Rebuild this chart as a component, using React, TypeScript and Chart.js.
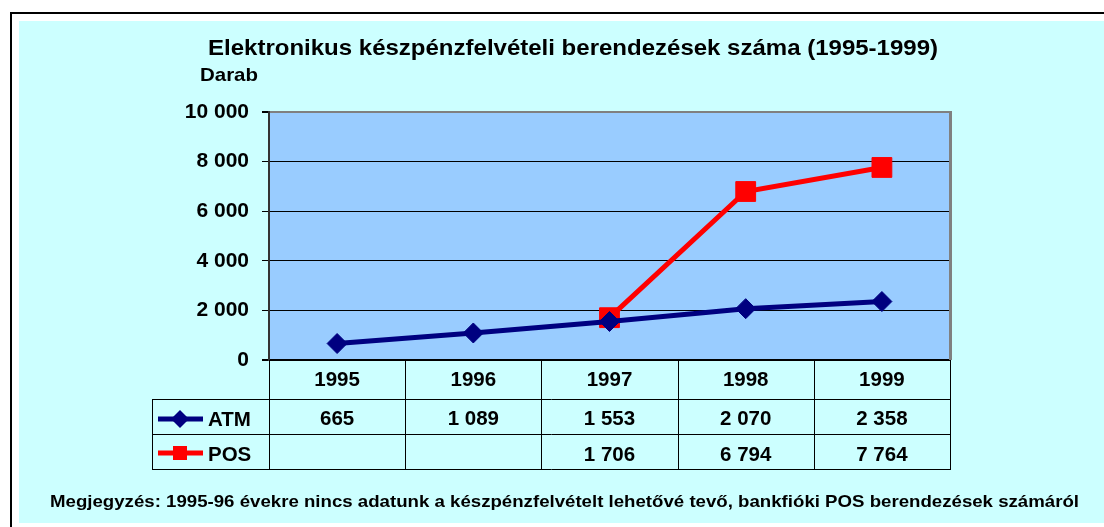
import { useEffect, useRef } from 'react';
import { Chart, registerables } from 'chart.js';

Chart.register(...registerables);

const W = 1104;
const H = 527;

const years: string[] = ['1995', '1996', '1997', '1998', '1999'];
const atm: (number | null)[] = [665, 1089, 1553, 2070, 2358];
const pos: (number | null)[] = [null, null, 1706, 6794, 7764];
const seriesNames: string[] = ['ATM', 'POS'];
const yMin = 0;
const yMax = 10000;
const yStep = 2000;
const titleText = 'Elektronikus készpénzfelvételi berendezések száma (1995-1999)';
const unitText = 'Darab';
const noteText =
  'Megjegyzés: 1995-96 évekre nincs adatunk a készpénzfelvételt lehetővé tevő, bankfióki POS berendezések számáról';

const FONT = '"Liberation Sans", Arial, sans-serif';
const NAVY = '#000080';
const RED = '#FF0000';

const fmt = (n: number | null) =>
  n === null || n === undefined ? '' : String(n).replace(/\B(?=(\d{3})+(?!\d))/g, ' ');

function drawText(
  ctx: CanvasRenderingContext2D,
  text: string,
  x: number,
  y: number,
  size: number,
  align: 'left' | 'center' | 'right',
  targetWidth?: number
) {
  ctx.save();
  ctx.font = `bold ${size}px ${FONT}`;
  ctx.fillStyle = '#000';
  ctx.textBaseline = 'alphabetic';
  const w = ctx.measureText(text).width;
  const sx = targetWidth ? targetWidth / w : 1;
  let left = x;
  const realW = w * sx;
  if (align === 'center') left = x - realW / 2;
  if (align === 'right') left = x - realW;
  ctx.translate(left, y);
  ctx.scale(sx, 1);
  ctx.textAlign = 'left';
  ctx.fillText(text, 0, 0);
  ctx.restore();
}

const framePlugin = {
  id: 'framePlugin',
  beforeDraw(chart: any) {
    const ctx: CanvasRenderingContext2D = chart.ctx;
    const ca = chart.chartArea;
    ctx.save();
    ctx.fillStyle = '#FFFFFF';
    ctx.fillRect(0, 0, W, H);
    ctx.fillStyle = '#000000';
    ctx.fillRect(10, 12, W - 10, 2);
    ctx.fillRect(10, 12, 2, H - 12);
    ctx.fillStyle = '#CCFFFF';
    ctx.fillRect(19, 21, W - 19, 502);
    ctx.fillStyle = '#99CCFF';
    ctx.fillRect(ca.left, ca.top, ca.right - ca.left, ca.bottom - ca.top);
    ctx.restore();

    drawText(ctx, titleText, 573, 55, 22, 'center', 730);
    drawText(ctx, unitText, 200, 81, 19, 'left', 58);
  },
  beforeDatasetsDraw(chart: any) {
    const ctx: CanvasRenderingContext2D = chart.ctx;
    const ca = chart.chartArea;
    ctx.save();
    ctx.fillStyle = '#808080';
    ctx.fillRect(ca.right - 1, ca.top - 1, 3, ca.bottom - ca.top + 1);
    ctx.restore();
  },
  afterDraw(chart: any) {
    const ctx: CanvasRenderingContext2D = chart.ctx;
    const ca = chart.chartArea;
    const xs = chart.scales.x;
    const centers = years.map((_, i) => xs.getPixelForValue(i));
    const bounds: number[] = [ca.left];
    for (let i = 0; i < centers.length - 1; i++) bounds.push((centers[i] + centers[i + 1]) / 2);
    bounds.push(ca.right);

    const tableLeft = 152;
    const rowTop = ca.bottom;
    const r1 = 399;
    const r2 = 434;
    const r3 = 469;

    ctx.save();
    ctx.strokeStyle = '#000000';
    ctx.lineWidth = 1;
    ctx.beginPath();
    [r1, r2, r3].forEach((y) => {
      ctx.moveTo(tableLeft, y + 0.5);
      ctx.lineTo(ca.right + 1, y + 0.5);
    });
    ctx.moveTo(tableLeft + 0.5, r1);
    ctx.lineTo(tableLeft + 0.5, r3 + 1);
    bounds.forEach((bx) => {
      const x = Math.round(bx) + 0.5;
      ctx.moveTo(x, rowTop);
      ctx.lineTo(x, r3 + 1);
    });
    ctx.stroke();
    ctx.restore();

    centers.forEach((cx, i) => drawText(ctx, years[i], cx, 386, 20.5, 'center'));
    centers.forEach((cx, i) => drawText(ctx, fmt(atm[i]), cx, 425, 20.5, 'center'));
    centers.forEach((cx, i) => drawText(ctx, fmt(pos[i]), cx, 461, 20.5, 'center'));

    ctx.save();
    ctx.strokeStyle = NAVY;
    ctx.lineWidth = 5;
    ctx.beginPath();
    ctx.moveTo(158, 419);
    ctx.lineTo(203, 419);
    ctx.stroke();
    ctx.fillStyle = NAVY;
    ctx.beginPath();
    ctx.moveTo(180, 410);
    ctx.lineTo(189, 419);
    ctx.lineTo(180, 428);
    ctx.lineTo(171, 419);
    ctx.closePath();
    ctx.fill();

    ctx.strokeStyle = RED;
    ctx.beginPath();
    ctx.moveTo(158, 453);
    ctx.lineTo(203, 453);
    ctx.stroke();
    ctx.fillStyle = RED;
    ctx.fillRect(173, 446, 14, 14);
    ctx.restore();

    drawText(ctx, seriesNames[0], 208, 426, 20.5, 'left');
    drawText(ctx, seriesNames[1], 208, 461, 20.5, 'left');

    drawText(ctx, noteText, 564.5, 507, 17, 'center', 1029);
  },
};

export default function App() {
  const ref = useRef<HTMLCanvasElement | null>(null);

  useEffect(() => {
    if (!ref.current) return;
    const chart = new Chart(ref.current, {
      type: 'line',
      data: {
        labels: years,
        datasets: [
          {
            label: seriesNames[0],
            data: atm,
            borderColor: NAVY,
            backgroundColor: NAVY,
            borderWidth: 5,
            pointStyle: 'rectRot',
            pointRadius: 10,
            pointBorderWidth: 1,
            pointBackgroundColor: NAVY,
            pointBorderColor: NAVY,
            tension: 0,
          },
          {
            label: seriesNames[1],
            data: pos,
            borderColor: RED,
            backgroundColor: RED,
            borderWidth: 5,
            pointStyle: 'rect',
            pointRadius: 14,
            pointBorderWidth: 1,
            pointBackgroundColor: RED,
            pointBorderColor: RED,
            tension: 0,
            spanGaps: false,
          },
        ],
      },
      options: {
        animation: false,
        responsive: false,
        maintainAspectRatio: false,
        events: [],
        layout: {
          padding: { left: 159, top: 112, right: W - 950, bottom: H - 360 },
        },
        plugins: {
          legend: { display: false },
          title: { display: false },
          tooltip: { enabled: false },
        },
        scales: {
          x: {
            type: 'category',
            display: false,
            offset: true,
            grid: { display: false },
          },
          y: {
            min: yMin,
            max: yMax,
            afterFit: (s: any) => {
              s.width = 110;
            },
            ticks: {
              stepSize: yStep,
              callback: (v: any) => fmt(Number(v)),
              color: '#000000',
              font: { family: FONT, size: 21, weight: 'bold' },
              padding: 13,
            },
            grid: {
              color: (c: any) => (c.tick && c.tick.value === yMax ? '#808080' : '#000000'),
              tickColor: '#000000',
              lineWidth: (c: any) => (c.tick && (c.tick.value === yMin || c.tick.value === yMax) ? 2 : 1),
              tickLength: 7,
              drawTicks: true,
            },
            border: { display: true, color: '#333333', width: 2 },
          },
        },
      },
      plugins: [framePlugin],
    } as any);
    return () => chart.destroy();
  }, []);

  return (
    <div style={{ position: 'fixed', left: 0, top: 0, width: W, height: H }}>
      <canvas ref={ref} width={W} height={H} style={{ width: W, height: H, display: 'block' }} />
    </div>
  );
}
